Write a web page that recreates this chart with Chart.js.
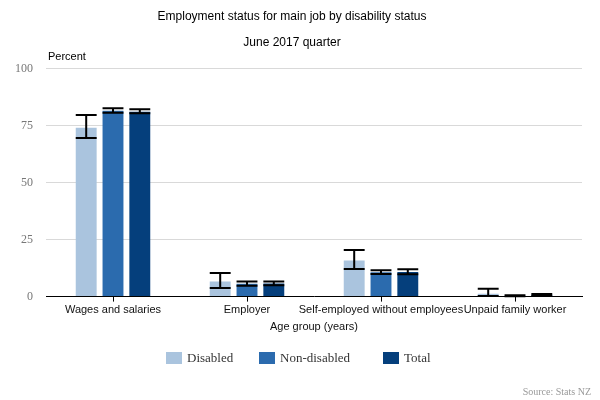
<!DOCTYPE html>
<html><head><meta charset="utf-8">
<script src="https://cdn.jsdelivr.net/npm/chart.js@4"></script>
<style>html,body{margin:0;padding:0;background:#fff}#wrap{width:600px;height:400px}</style>
</head><body><div id="wrap"><canvas id="c" width="600" height="400"></canvas></div>
<script>
const categories = ["Wages and salaries", "Employer", "Self-employed without employees", "Unpaid family worker"];
const seriesNames = ["Disabled", "Non-disabled", "Total"];
const disabled = [74.1, 6.6, 15.8, 1.2];
const disabledLow = [69.6, 3.8, 12.1, 0.3];
const disabledHigh = [79.7, 10.4, 20.5, 3.4];
const nonDisabled = [81.6, 5.6, 10.7, 0.4];
const nonDisabledLow = [80.7, 4.8, 9.9, 0.2];
const nonDisabledHigh = [82.7, 6.6, 11.6, 0.6];
const total = [81.2, 5.7, 10.8, 0.8];
const totalLow = [80.5, 5.0, 9.8, 0.6];
const totalHigh = [82.2, 6.6, 12.0, 1.1];
const yTicks = [0, 25, 50, 75, 100];
const colors = ["#aac4de", "#2b6bae", "#053f7c"];

const errorBars = {
  id: 'errorBars',
  afterDatasetsDraw(chart) {
    const ctx = chart.ctx;
    const ys = chart.scales.y;
    chart.data.datasets.forEach((ds, i) => {
      const meta = chart.getDatasetMeta(i);
      meta.data.forEach((el, j) => {
        const lo = ys.getPixelForValue(ds.errLow[j]);
        const hi = ys.getPixelForValue(ds.errHigh[j]);
        const half = el.width / 2;
        ctx.save();
        ctx.strokeStyle = '#000';
        ctx.lineWidth = 2;
        ctx.beginPath();
        ctx.moveTo(el.x, lo); ctx.lineTo(el.x, hi);
        ctx.moveTo(el.x - half, lo); ctx.lineTo(el.x + half, lo);
        ctx.moveTo(el.x - half, hi); ctx.lineTo(el.x + half, hi);
        ctx.stroke();
        ctx.restore();
      });
    });
  }
};
const legendX = [166, 259, 383];
const extras = {
  id: 'extras',
  afterDraw(chart) {
    const ctx = chart.ctx;
    const ca = chart.chartArea;
    ctx.save();
    ctx.fillStyle = '#000';
    ctx.font = '11px "Liberation Sans", Arial, sans-serif';
    ctx.textAlign = 'left';
    ctx.textBaseline = 'middle';
    ctx.fillText('Percent', ca.left + 2, 57);
    // legend
    ctx.font = '13px "Liberation Serif", "Times New Roman", serif';
    chart.data.datasets.forEach((ds, i) => {
      ctx.fillStyle = ds.backgroundColor;
      ctx.fillRect(legendX[i], 352, 16, 12);
      ctx.fillStyle = '#333';
      ctx.fillText(ds.label, legendX[i] + 21, 359);
    });
    ctx.fillStyle = '#999';
    ctx.font = '10px "Liberation Serif", "Times New Roman", serif';
    ctx.textAlign = 'right';
    ctx.fillText('Source: Stats NZ', 591, 392);
    ctx.restore();
  }
};

new Chart(document.getElementById('c'), {
  type: 'bar',
  data: {
    labels: categories,
    datasets: [
      { label: seriesNames[0], data: disabled, errLow: disabledLow, errHigh: disabledHigh, backgroundColor: colors[0] },
      { label: seriesNames[1], data: nonDisabled, errLow: nonDisabledLow, errHigh: nonDisabledHigh, backgroundColor: colors[1] },
      { label: seriesNames[2], data: total, errLow: totalLow, errHigh: totalHigh, backgroundColor: colors[2] }
    ]
  },
  options: {
    responsive: false,
    animation: false,
    datasets: { bar: { categoryPercentage: 0.6, barPercentage: 0.78 } },
    layout: { padding: { left: 2, right: 18, top: 5, bottom: 66 } },
    plugins: {
      title: { display: true, text: 'Employment status for main job by disability status', color: '#000',
        font: { family: '"Liberation Sans", Arial, sans-serif', size: 12, weight: 'normal' }, padding: { top: 4, bottom: 12 } },
      subtitle: { display: true, text: 'June 2017 quarter', color: '#000',
        font: { family: '"Liberation Sans", Arial, sans-serif', size: 12, weight: 'normal' }, padding: { top: 0, bottom: 19 } },
      legend: { display: false },
      tooltip: { enabled: false }
    },
    scales: {
      x: {
        grid: { display: true, drawOnChartArea: false, drawTicks: true, offset: false, tickLength: 5, tickColor: '#000' },
        border: { display: true, color: '#000', width: 1 },
        ticks: { color: '#111', font: { family: '"Liberation Sans", Arial, sans-serif', size: 11 }, padding: 2, maxRotation: 0, autoSkip: false },
        title: { display: true, text: 'Age group (years)', color: '#111', font: { family: '"Liberation Sans", Arial, sans-serif', size: 11 }, padding: { top: 2, bottom: 0 } }
      },
      y: {
        min: 0, max: 100,
        afterBuildTicks(scale) { scale.ticks = yTicks.map(v => ({ value: v })); },
        grid: { color: '#d9d9d9', drawTicks: false },
        border: { display: false },
        ticks: { color: '#777', font: { family: '"Liberation Serif", "Times New Roman", serif', size: 12 }, padding: 13 }
      }
    }
  },
  plugins: [errorBars, extras]
});
</script></body></html>
